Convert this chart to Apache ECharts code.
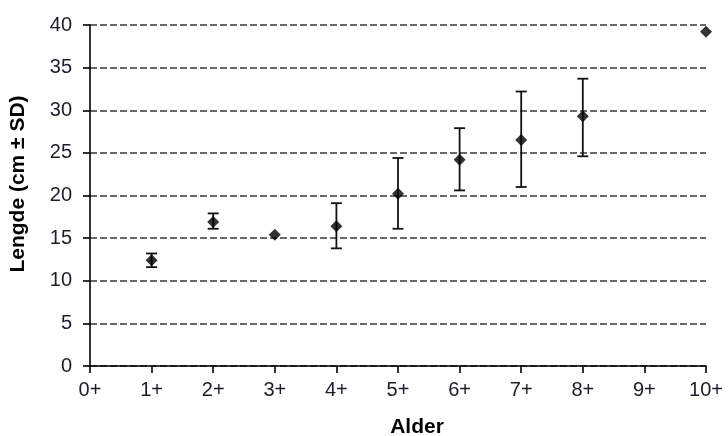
<!DOCTYPE html>
<html>
<head>
<meta charset="utf-8">
<script src="https://cdn.jsdelivr.net/npm/echarts@6/dist/echarts.min.js"></script>
<style>html,body{margin:0;padding:0;background:#fff}#c{width:728px;height:436px}</style>
</head>
<body>
<div id="c"></div>
<script>
const categories = ['0+','1+','2+','3+','4+','5+','6+','7+','8+','9+','10+'];
const yTicks = [0, 5, 10, 15, 20, 25, 30, 35, 40];
// [category index, mean]
const means = [[1,12.4],[2,16.9],[3,15.4],[4,16.4],[5,20.2],[6,24.2],[7,26.5],[8,29.3],[10,39.2]];
// [category index, low, high]  (mean ± SD)
const errors = [[1,11.6,13.2],[2,16.1,17.9],[4,13.8,19.1],[5,16.1,24.4],[6,20.6,27.9],[7,21.0,32.2],[8,24.6,33.7]];
const xName = 'Alder';
const yName = 'Lengde (cm ± SD)';

const chart = echarts.init(document.getElementById('c'));
const font = '"Liberation Sans", Arial, sans-serif';
chart.setOption({
  animation: false,
  backgroundColor: '#fff',
  grid: {left: 90, right: 22, top: 25, bottom: 70},
  xAxis: {
    type: 'category', data: categories, boundaryGap: false,
    axisLine: {lineStyle: {color: '#000', width: 1.6}},
    axisTick: {show: true, length: 7, alignWithLabel: true, lineStyle: {color: '#000', width: 1.6}},
    axisLabel: {fontSize: 20, fontFamily: font, color: '#1c1c2c', margin: 14, interval: 0},
    splitLine: {show: false}
  },
  yAxis: {
    type: 'value', min: yTicks[0], max: yTicks[yTicks.length-1], interval: 5,
    axisLine: {show: true, lineStyle: {color: '#000', width: 1.6}},
    axisTick: {show: true, length: 7, lineStyle: {color: '#000', width: 1.6}},
    axisLabel: {fontSize: 20, fontFamily: font, color: '#1c1c2c', margin: 18},
    splitLine: {show: true, lineStyle: {color: '#383838', width: 1.5, type: [7, 3]}}
  },
  graphic: [
    {type: 'text', x: 18.5, y: 184, rotation: Math.PI/2,
     style: {text: yName, font: 'bold 21px ' + font, fill: '#000', textAlign: 'center', textVerticalAlign: 'middle'}},
    {type: 'text', x: 417, y: 427,
     style: {text: xName, font: 'bold 21px ' + font, fill: '#000', textAlign: 'center', textVerticalAlign: 'middle'}}
  ],
  series: [
    {
      type: 'custom', z: 3,
      data: errors,
      renderItem: function (params, api) {
        const x = api.value(0);
        const lo = api.coord([x, api.value(1)]);
        const hi = api.coord([x, api.value(2)]);
        const w = 5.5;
        const st = {stroke: '#111', lineWidth: 1.8};
        return {type: 'group', children: [
          {type: 'line', shape: {x1: lo[0], y1: lo[1], x2: hi[0], y2: hi[1]}, style: st},
          {type: 'line', shape: {x1: lo[0]-w, y1: lo[1], x2: lo[0]+w, y2: lo[1]}, style: st},
          {type: 'line', shape: {x1: hi[0]-w, y1: hi[1], x2: hi[0]+w, y2: hi[1]}, style: st}
        ]};
      }
    },
    {
      type: 'scatter', z: 4, clip: false,
      symbol: 'diamond', symbolSize: 12,
      itemStyle: {color: '#000'},
      data: means
    }
  ]
});
</script>
</body>
</html>
